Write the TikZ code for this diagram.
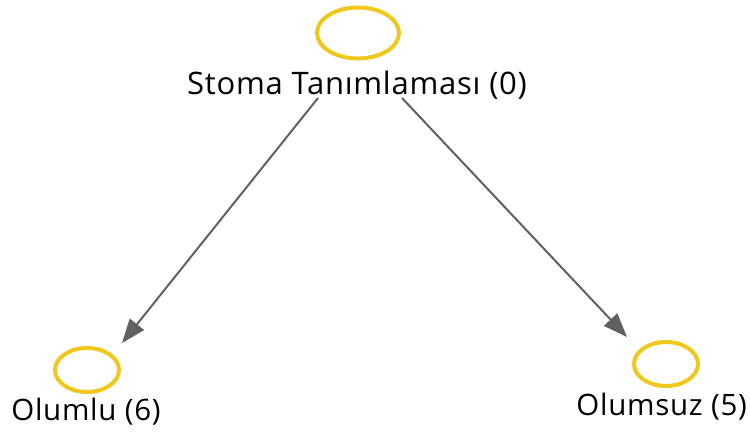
\documentclass[tikz,border=0pt]{standalone}
\usepackage{fontspec}
\setmainfont{Open Sans}[LetterSpace=2.4]
\usetikzlibrary{arrows.meta,shapes.geometric}
\definecolor{ringyellow}{HTML}{F0C81C}
\definecolor{edgegray}{HTML}{606060}
\begin{document}
\begin{tikzpicture}[x=1pt,y=-1pt,
  ring/.style={draw=ringyellow,line width=4pt,ellipse,inner sep=0pt},
  lbl/.style={font=\fontsize{31}{36}\selectfont,inner sep=0pt,text=black},
  smalllbl/.style={font=\fontsize{29.5}{34}\selectfont,inner sep=0pt,text=black},
  edge/.style={draw=edgegray,line width=2pt,-{Triangle[length=24pt,width=18pt]}}]
\useasboundingbox (0,0) rectangle (750,435);
\node[ring,minimum width=82pt,minimum height=51pt] (top) at (358,33) {};
\node[lbl] (toplbl) at (357,85) {Stoma Tanımlaması (0)};
\node[ring,minimum width=64pt,minimum height=44pt] (left) at (87,370) {};
\node[smalllbl] (leftlbl) at (86,412) {Olumlu (6)};
\node[ring,minimum width=64pt,minimum height=44pt] (right) at (666,364) {};
\node[smalllbl,anchor=east] (rightlbl) at (747,407) {Olumsuz (5)};
\coordinate (s1) at (318,98);
\coordinate (e1) at (122,343);
\coordinate (s2) at (402,98);
\coordinate (e2) at (627,337);
\draw[edge] (s1) -- (e1);
\draw[edge] (s2) -- (e2);
\end{tikzpicture}
\end{document}
